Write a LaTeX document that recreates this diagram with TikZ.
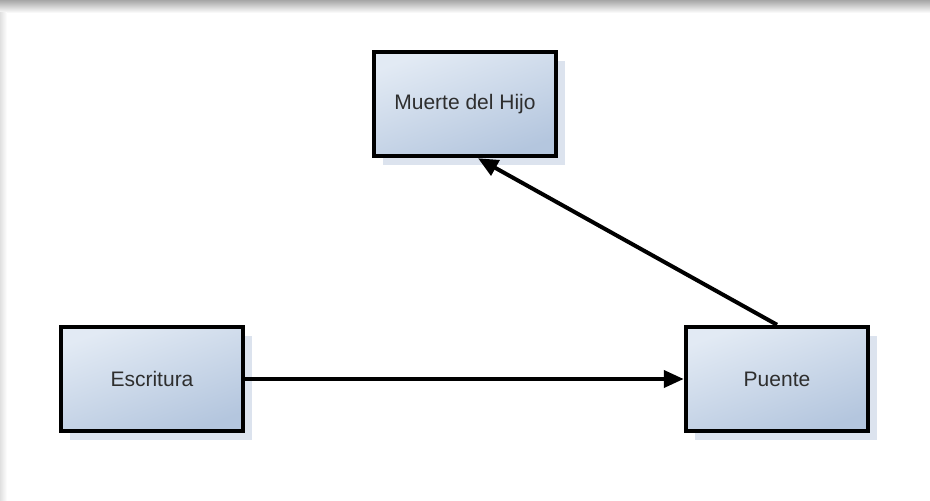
\documentclass[tikz,border=0pt]{standalone}
\usepackage{fontspec}
\setmainfont{Liberation Sans}
\usetikzlibrary{arrows.meta,shadows,shadings}
\definecolor{boxtop}{HTML}{E2EAF4}
\definecolor{boxbot}{HTML}{B4C6DE}
\definecolor{shadowblue}{HTML}{DCE3EE}
\definecolor{txt}{HTML}{2E2E2E}
\begin{document}
\begin{tikzpicture}[x=1pt,y=-1pt,
  blockbox/.style={draw=black, line width=4.5pt, minimum width=182pt, minimum height=104pt,
    shading=axis, top color=boxtop, bottom color=boxbot, shading angle=20,
    text=txt, font=\fontsize{21}{25}\selectfont,
    drop shadow={shadow xshift=9pt, shadow yshift=-9pt, fill=shadowblue, opacity=1}},
  link/.style={line width=4pt, -{Triangle[length=20pt,width=17pt]}}]
  % page and its shadow
  \useasboundingbox (0,0) rectangle (930,501);
  \fill[white] (0,0) rectangle (930,501);
  \shade[top color=black!35, bottom color=white] (0,0) rectangle (930,13);
  \shade[left color=black!12, right color=white] (0,12) rectangle (7,501);
  % blocks
  \node[blockbox] (hijo) at (465,104) {Muerte del Hijo};
  \node[blockbox] (escr) at (152,379) {Escritura};
  \node[blockbox] (puen) at (777,379) {Puente};
  % connectors
  \draw[link] (escr.east) -- (puen.west);
  \draw[link] (puen.north) -- ([xshift=13pt]hijo.south);
\end{tikzpicture}
\end{document}
